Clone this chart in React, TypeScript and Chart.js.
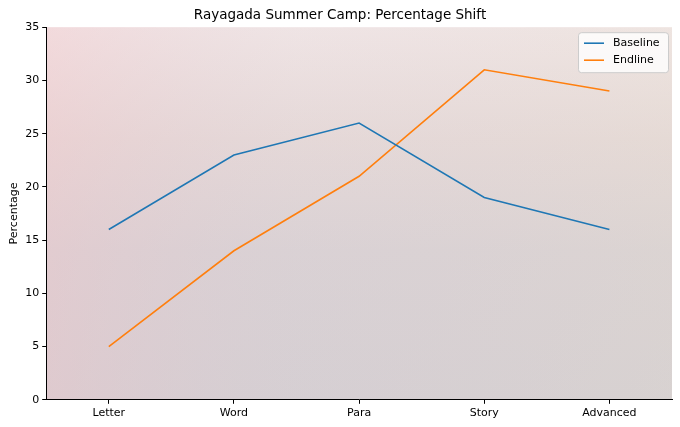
import { useEffect, useRef } from "react";
import { Chart, registerables } from "chart.js";

Chart.register(...registerables);

const levels = ["Letter", "Word", "Para", "Story", "Advanced"];
const baseline = [16, 23, 26, 19, 16];
const endline = [5, 14, 21, 31, 29];

const FONT = "'DejaVu Sans', sans-serif";

// faded photo backdrop, approximated with gradients
const backdrop = {
  id: "backdrop",
  beforeDraw(chart: Chart) {
    const { ctx, chartArea: a } = chart;
    ctx.save();
    const g = ctx.createLinearGradient(0, a.top, 0, a.bottom);
    g.addColorStop(0, "#f6e9e7");
    g.addColorStop(0.3, "#eadbd8");
    g.addColorStop(0.6, "#ddd3d4");
    g.addColorStop(1, "#d8d0d2");
    ctx.fillStyle = g;
    ctx.fillRect(a.left, a.top, a.right - a.left, a.bottom - a.top);
    const h = ctx.createLinearGradient(a.left, 0, a.right, 0);
    h.addColorStop(0, "rgba(235,190,200,0.35)");
    h.addColorStop(0.4, "rgba(200,200,215,0.15)");
    h.addColorStop(1, "rgba(215,215,205,0.25)");
    ctx.fillStyle = h;
    ctx.fillRect(a.left, a.top, a.right - a.left, a.bottom - a.top);
    ctx.restore();
  },
};

// matplotlib-style legend inside the plot, upper right
const innerLegend = {
  id: "innerLegend",
  afterDraw(chart: Chart) {
    const { ctx, chartArea: a } = chart;
    const w = 90;
    const h = 40;
    const x = a.right - w - 4;
    const y = a.top + 5;
    ctx.save();
    ctx.fillStyle = "rgba(255,255,255,0.8)";
    ctx.strokeStyle = "#cccccc";
    ctx.lineWidth = 1;
    ctx.beginPath();
    ctx.roundRect(x + 0.5, y + 0.5, w, h, 3);
    ctx.fill();
    ctx.stroke();
    ctx.font = `11px ${FONT}`;
    ctx.textBaseline = "middle";
    chart.data.datasets.forEach((ds, i) => {
      const ly = y + 11 + i * 17;
      ctx.strokeStyle = ds.borderColor as string;
      ctx.lineWidth = 1.6;
      ctx.beginPath();
      ctx.moveTo(x + 6, ly);
      ctx.lineTo(x + 26, ly);
      ctx.stroke();
      ctx.fillStyle = "#000";
      ctx.fillText(ds.label as string, x + 35, ly);
    });
    ctx.restore();
  },
};

export default function App() {
  const canvasRef = useRef<HTMLCanvasElement>(null);

  useEffect(() => {
    if (!canvasRef.current) return;
    const chart = new Chart(canvasRef.current, {
      type: "line",
      data: {
        labels: levels,
        datasets: [
          {
            label: "Baseline",
            data: baseline,
            borderColor: "#1f77b4",
            backgroundColor: "#1f77b4",
            borderWidth: 1.6,
            pointRadius: 0,
            tension: 0,
          },
          {
            label: "Endline",
            data: endline,
            borderColor: "#ff7f0e",
            backgroundColor: "#ff7f0e",
            borderWidth: 1.6,
            pointRadius: 0,
            tension: 0,
          },
        ],
      },
      options: {
        animation: false,
        responsive: true,
        maintainAspectRatio: false,
        layout: { padding: { left: 8, right: 8, top: 0, bottom: 4 } },
        plugins: {
          legend: { display: false },
          tooltip: { enabled: false },
          title: {
            display: true,
            text: "Rayagada Summer Camp: Percentage Shift",
            color: "#000",
            font: { family: FONT, size: 13.5, weight: "normal" },
            padding: { top: 7, bottom: 4 },
          },
        },
        scales: {
          x: {
            offset: true,
            border: { color: "#000", width: 1 },
            grid: {
              display: true,
              drawOnChartArea: false,
              color: "#000",
              tickLength: 4,
              offset: false,
            },
            ticks: { color: "#000", font: { family: FONT, size: 11 }, padding: 3 },
          },
          y: {
            min: 0,
            max: 35,
            border: { color: "#000", width: 1 },
            grid: {
              display: true,
              drawOnChartArea: false,
              color: "#000",
              tickLength: 4,
            },
            ticks: {
              stepSize: 5,
              color: "#000",
              font: { family: FONT, size: 11 },
              padding: 3,
            },
            title: {
              display: true,
              text: "Percentage",
              color: "#000",
              font: { family: FONT, size: 11 },
              padding: { top: 0, bottom: 1 },
            },
          },
        },
      },
      plugins: [backdrop, innerLegend],
    });
    return () => chart.destroy();
  }, []);

  return (
    <div
      style={{
        position: "fixed",
        left: 0,
        top: 0,
        width: 680,
        height: 427,
        background: "#fff",
      }}
    >
      <canvas ref={canvasRef} />
    </div>
  );
}
